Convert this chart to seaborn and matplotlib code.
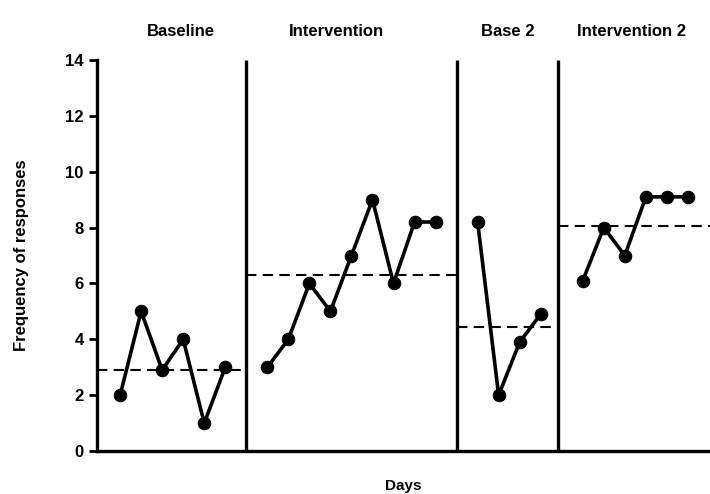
import pandas as pd
import seaborn as sns
import matplotlib.pyplot as plt

# Данные по фазам (дни и частота ответов)
phases = ['Baseline', 'Intervention', 'Base 2', 'Intervention 2']
baseline_days = [1, 2, 3, 4, 5, 6]
baseline_vals = [2, 5, 2.9, 4, 1, 3]
interv_days = [8, 9, 10, 11, 12, 13, 14, 15, 16]
interv_vals = [3, 4, 6, 5, 7, 9, 6, 8.2, 8.2]
base2_days = [18, 19, 20, 21]
base2_vals = [8.2, 2, 3.9, 4.9]
interv2_days = [23, 24, 25, 26, 27, 28]
interv2_vals = [6.1, 8, 7, 9.1, 9.1, 9.1]
# средние уровни (пунктир) и границы фаз
phase_means = [2.9, 6.3, 4.45, 8.05]
phase_changes = [7, 17, 21.8]
x_min, x_max = -0.1, 29.05

sns.set_style('ticks')
plt.rcParams['font.family'] = ['Liberation Sans', 'DejaVu Sans']
plt.rcParams['font.weight'] = 'bold'
plt.rcParams['text.color'] = 'black'
plt.rcParams['axes.labelcolor'] = 'black'
plt.rcParams['ytick.color'] = 'black'

fig = plt.figure(figsize=(7.1, 4.94), dpi=100)
ax = fig.add_axes([0.1366, 0.087, 0.8634, 0.7915])

groups = [(baseline_days, baseline_vals), (interv_days, interv_vals),
          (base2_days, base2_vals), (interv2_days, interv2_vals)]
for days, vals in groups:
    df = pd.DataFrame({'day': days, 'freq': vals})
    sns.lineplot(x='day', y='freq', data=df, ax=ax, color='black', lw=2.6,
                 marker='o', markersize=9, markeredgecolor='black')

# пунктирные линии средних
bounds = [x_min] + phase_changes + [x_max]
for i, m in enumerate(phase_means):
    ax.hlines(m, bounds[i], bounds[i + 1], colors='black', linestyles=(0, (5, 3)), lw=1.5)

# вертикальные линии смены фаз
for pc in phase_changes:
    ax.vlines(pc, 0, 14, colors='black', lw=2.4)

ax.set_xlim(x_min, x_max)
ax.set_ylim(0, 14)
ax.set_yticks(range(0, 15, 2))
ax.set_xticks([])
ax.tick_params(axis='y', length=6, width=2, labelsize=12, colors='black')
for s in ['top', 'right']:
    ax.spines[s].set_visible(False)
for s in ['left', 'bottom']:
    ax.spines[s].set_linewidth(2.4)
    ax.spines[s].set_color('black')

ax.set_xlabel('Days', fontsize=11, fontweight='bold', labelpad=20)
ax.set_ylabel('Frequency of responses', fontsize=12, fontweight='bold', labelpad=26)

# подписи фаз
centers = [3.9, 11.27, 19.44, 25.3]
for name, cx in zip(phases, centers):
    ax.text(cx, 14.75, name, ha='center', va='bottom', fontsize=12, fontweight='bold')

plt.savefig('out.png', dpi=100)
